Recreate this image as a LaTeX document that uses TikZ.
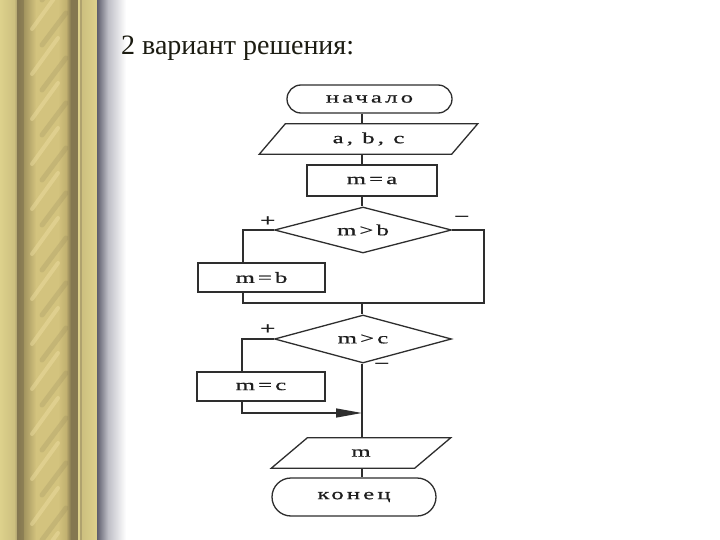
\documentclass[tikz,border=0pt]{standalone}
\usepackage{fontspec}
\setmainfont{Liberation Serif}
\newfontfamily\fcfont[FakeStretch=1.6,LetterSpace=20,FakeBold=0.6]{Liberation Serif}
\newfontfamily\fcmono[FakeStretch=1.57]{Liberation Mono}
\usetikzlibrary{shapes.geometric,arrows.meta}
\definecolor{lc}{HTML}{2E2E2E}
\definecolor{txt}{HTML}{1E1E1E}
\definecolor{titlec}{HTML}{1C1C12}
\definecolor{goldA}{HTML}{DDD18C}
\definecolor{goldB}{HTML}{CDC07F}
\definecolor{goldC}{HTML}{AFA26E}
\definecolor{darkA}{HTML}{847750}
\definecolor{darkB}{HTML}{8E8155}
\definecolor{rodA}{HTML}{A3955F}
\definecolor{rodB}{HTML}{D3C37E}
\definecolor{rodC}{HTML}{C2B170}
\definecolor{hiC}{HTML}{EEDFA2}
\definecolor{shA}{HTML}{5E5E6C}
\definecolor{shB}{HTML}{BEBEC6}
\begin{document}
\begin{tikzpicture}[x=1pt,y=-1pt,
  ln/.style={line width=1.3pt, draw=lc},
  fctext/.style={font=\fcfont\fontsize{15.5}{18}\selectfont, text=txt},
  term/.style={fctext, ln, rectangle, inner sep=0pt},
  proc/.style={fctext, ln, rectangle, inner sep=0pt},
  dec/.style={fctext, ln, diamond, aspect=3.8, inner sep=0pt, minimum width=177pt},
  io/.style={fctext, rectangle, inner sep=0pt},
  sign/.style={font=\fcmono\fontsize{17}{20}\selectfont, text=txt, inner sep=0pt},
  arr/.style={ln, -{Triangle[length=26pt,width=9pt]}}
]
\useasboundingbox (0,0) rectangle (720,540);
\fill[white] (0,0) rectangle (720,540);
% decorative column
\shade[left color=goldA, right color=goldB] (0,0) rectangle (14,540);
\shade[left color=goldB, right color=goldC] (14,0) rectangle (17,540);
\shade[left color=darkA, right color=darkB] (17,0) rectangle (24,540);
\shade[left color=rodA, right color=rodB] (24,0) rectangle (36,540);
\fill[rodB] (36,0) rectangle (58,540);
\shade[left color=rodB, right color=rodC] (58,0) rectangle (66,540);
\shade[left color=rodC, right color=darkA] (66,0) rectangle (71,540);
\fill[darkA] (71,0) rectangle (78,540);
\fill[goldA] (78,0) rectangle (80,540);
\fill[goldC] (80,0) rectangle (82,540);
\shade[left color=goldB, right color=goldA] (82,0) rectangle (97,540);
\begin{scope}
  \clip (26,0) rectangle (68,540);
  \foreach \yy in {-40,5,...,580} {
    \draw[hiC, opacity=0.45, line width=4pt, line cap=round] (32,\yy+24) -- (58,\yy-12);
    \draw[darkA, opacity=0.18, line width=5pt, line cap=round] (42,\yy+40) -- (66,\yy+8);
  }
\end{scope}
\shade[left color=shA, right color=shB] (97,0) rectangle (108,540);
\shade[left color=shB, right color=white] (108,0) rectangle (126,540);
% title
\node[anchor=base west, font=\fontsize{28}{32}\selectfont, text=titlec, inner sep=0pt] (title) at (121,55) {2 вариант решения:};
% flowchart
\coordinate (X) at (362,0);
\node[term, minimum width=165pt, minimum height=28pt, rounded corners=14pt] (start) at (369.5,99) {начало};
\node[io, minimum width=192pt, minimum height=30pt] (in) at (368.5,139) {a, b, c};
\draw[ln] ([xshift=13pt]in.north west) -- ([xshift=13pt]in.north east) -- ([xshift=-13pt]in.south east) -- ([xshift=-13pt]in.south west) -- cycle;
\node[proc, minimum width=130pt, minimum height=31pt] (ma) at (372,180.5) {m=a};
\node[dec, minimum height=46pt] (d1) at (363,230) {m>b};
\node[proc, minimum width=127pt, minimum height=29pt] (mb) at (261.5,277.5) {m=b};
\coordinate (l1) at (243,0);
\coordinate (r1) at (484,0);
\coordinate (j1) at (362,303);
\node[dec, minimum height=48pt] (d2) at (363,339) {m>c};
\node[proc, minimum width=128pt, minimum height=29pt] (mc) at (261,386.5) {m=c};
\coordinate (l2) at (242,0);
\coordinate (j2) at (362,413);
\node[io, minimum width=143pt, minimum height=30pt] (out) at (361,453) {m};
\draw[ln] ([xshift=18pt]out.north west) -- ([xshift=18pt]out.north east) -- ([xshift=-18pt]out.south east) -- ([xshift=-18pt]out.south west) -- cycle;
\node[term, minimum width=164pt, minimum height=38pt, rounded corners=19pt] (end) at (354,497) {конец};
% signs
\node[sign] (p1) at (268,222) {+};
\node[sign] (n1) at (462,219) {−};
\node[sign] (p2) at (268,330) {+};
\node[sign] (n2) at (382,366) {−};
% connectors
\draw[ln] (start.south -| X) -- (in.north -| X);
\draw[ln] (in.south -| X) -- (ma.north -| X);
\draw[ln] (ma.south -| X) -- (d1.north -| X);
\draw[ln] (d1.west) -- (d1.west -| l1) -- (mb.north -| l1);
\draw[ln] (mb.south -| l1) -- (j1 -| l1) -- (j1 -| r1) -- (d1.east -| r1) -- (d1.east);
\draw[ln] (j1) -- (d2.north -| X);
\draw[ln] (d2.west) -- (d2.west -| l2) -- (mc.north -| l2);
\draw[arr] (mc.south -| l2) -- (j2 -| l2) -- (j2);
\draw[ln] (d2.south -| X) -- (out.north -| X);
\draw[ln] (out.south -| X) -- (end.north -| X);
\end{tikzpicture}
\end{document}
